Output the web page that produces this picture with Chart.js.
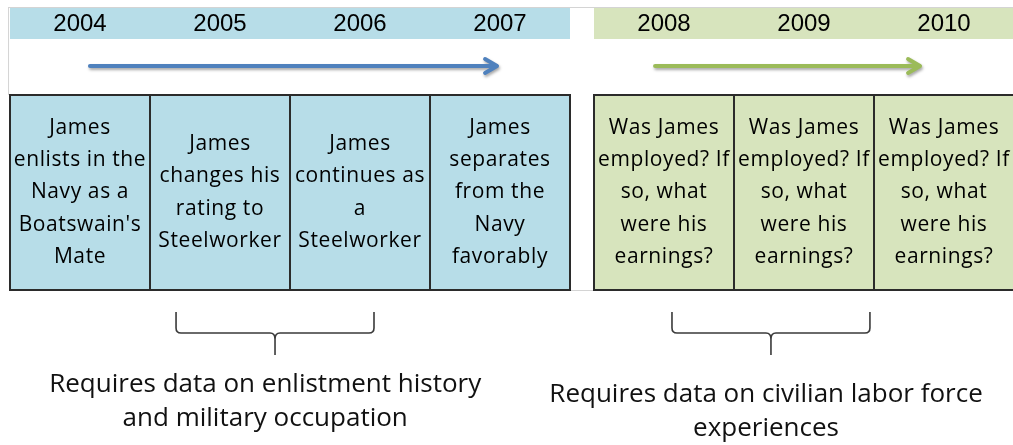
<!DOCTYPE html>
<html>
<head>
<meta charset="utf-8">
<script src="https://cdn.jsdelivr.net/npm/chart.js@4/dist/chart.umd.min.js"></script>
<style>
  html, body { margin: 0; padding: 0; background: #fff; }
  #wrap { width: 1013px; height: 445px; }
</style>
</head>
<body>
<div id="wrap"><canvas id="timeline" width="1013" height="445"></canvas></div>
<script>
// データ
const years = ['2004', '2005', '2006', '2007', '2008', '2009', '2010'];
const yearGroup = [0, 0, 0, 0, 1, 1, 1]; // 0 = 軍歴, 1 = 民間
const eventLines = [
    ['James', 'enlists in the', 'Navy as a', "Boatswain's", 'Mate'],
    ['James', 'changes his', 'rating to', 'Steelworker'],
    ['James', 'continues as', 'a', 'Steelworker'],
    ['James', 'separates', 'from the', 'Navy', 'favorably'],
    ['Was James', 'employed? If', 'so, what', 'were his', 'earnings?'],
    ['Was James', 'employed? If', 'so, what', 'were his', 'earnings?'],
    ['Was James', 'employed? If', 'so, what', 'were his', 'earnings?']
];
const groupNotes = [
    ['Requires data on enlistment history', 'and military occupation'],
    ['Requires data on civilian labor force', 'experiences']
];

// スタイル・レイアウト
const fills = ['#b7dde8', '#d7e4bd'];
const arrowColors = ['#4f81bd', '#9bbb59'];
const GAP = 24 / 140;               // グループ間の隙間（列単位）
const groupStart = [0, 4 + GAP];
const groupEnd = [4, 7 + GAP];
const arrowSpan = [[0.571, 3.479], [0.436, 2.329]];   // グループ先頭からの位置
const braceSpan = [[1.186, 2.6], [0.557, 1.971]];
const noteShift = [-0.07, -0.035];
const noteTop = [385, 395];

function slot(i) { return i + (yearGroup[i] ? GAP : 0); }

const layoutPlugin = {
    id: 'layoutPlugin',
    afterDatasetsDraw(chart) {
        const ctx = chart.ctx;
        const x = chart.scales.x, y = chart.scales.y;
        const px = v => x.getPixelForValue(v);
        const py = v => y.getPixelForValue(v);
        ctx.save();

        // 枠線（薄いグレー）
        ctx.strokeStyle = '#d4d4d4';
        ctx.lineWidth = 1;
        ctx.beginPath();
        ctx.moveTo(px(-0.014), py(7.5)); ctx.lineTo(px(7.2), py(7.5));
        ctx.moveTo(px(-0.014) + 0.5, py(7.5)); ctx.lineTo(px(-0.014) + 0.5, py(95));
        ctx.moveTo(px(4), py(290.5)); ctx.lineTo(px(4 + GAP), py(290.5));
        ctx.stroke();

        // ヘッダー帯
        [0, 1].forEach(g => {
            ctx.fillStyle = fills[g];
            ctx.fillRect(px(groupStart[g]), py(8), px(groupEnd[g]) - px(groupStart[g]), py(39) - py(8));
        });

        // 年ラベル
        ctx.fillStyle = '#000';
        ctx.font = '24px "Liberation Sans", Arial, sans-serif';
        ctx.textAlign = 'center';
        ctx.textBaseline = 'middle';
        years.forEach((yr, i) => {
            ctx.fillText(yr, px(slot(i) + 0.5), py(24));
        });

        // 矢印
        [0, 1].forEach(g => {
            const x0 = px(groupStart[g] + arrowSpan[g][0]);
            const x1 = px(groupStart[g] + arrowSpan[g][1]);
            const yy = py(66);
            ctx.save();
            ctx.shadowColor = 'rgba(0,0,0,0.35)';
            ctx.shadowBlur = 3;
            ctx.shadowOffsetX = 1;
            ctx.shadowOffsetY = 2;
            ctx.strokeStyle = arrowColors[g];
            ctx.lineWidth = 4;
            ctx.lineCap = 'round';
            ctx.lineJoin = 'round';
            ctx.beginPath();
            ctx.moveTo(x0, yy); ctx.lineTo(x1 - 1, yy);
            ctx.moveTo(x1 - 12, yy - 7); ctx.lineTo(x1, yy); ctx.lineTo(x1 - 12, yy + 7);
            ctx.stroke();
            ctx.restore();
        });

        // イベントの箱
        ctx.font = '21px "Open Sans", sans-serif';
        ctx.letterSpacing = '0.6px';
        const lineH = 32.3;
        eventLines.forEach((lines, i) => {
            const g = yearGroup[i];
            const l = px(slot(i)), r = px(slot(i) + 1);
            const t = py(95), b = py(290);
            ctx.fillStyle = fills[g];
            ctx.fillRect(l, t, r - l, b - t);
            ctx.strokeStyle = '#2b2b2b';
            ctx.lineWidth = 2;
            ctx.strokeRect(l, t, r - l, b - t);
            ctx.fillStyle = '#000';
            const mid = (t + b) / 2;
            const first = mid - (lines.length - 1) * lineH / 2;
            lines.forEach((s, k) => ctx.fillText(s, (l + r) / 2, first + k * lineH));
        });
        ctx.letterSpacing = '0px';

        // 波括弧と説明文
        [0, 1].forEach(g => {
            const a = px(groupStart[g] + braceSpan[g][0]);
            const c = px(groupStart[g] + braceSpan[g][1]);
            const m = (a + c) / 2;
            const top = py(312), hy = py(333), tip = py(355);
            ctx.strokeStyle = '#3a3a3a';
            ctx.lineWidth = 1.6;
            ctx.beginPath();
            ctx.moveTo(a, top);
            ctx.lineTo(a, hy - 5);
            ctx.quadraticCurveTo(a, hy, a + 5, hy);
            ctx.lineTo(m - 5, hy);
            ctx.quadraticCurveTo(m, hy, m, hy + 6);
            ctx.lineTo(m, tip);
            ctx.moveTo(m, hy + 6);
            ctx.quadraticCurveTo(m, hy, m + 5, hy);
            ctx.lineTo(c - 5, hy);
            ctx.quadraticCurveTo(c, hy, c, hy - 5);
            ctx.lineTo(c, top);
            ctx.stroke();

            ctx.fillStyle = '#111';
            ctx.font = '26px "Open Sans", sans-serif';
            const cx = px(groupStart[g] + (braceSpan[g][0] + braceSpan[g][1]) / 2 + noteShift[g]);
            groupNotes[g].forEach((s, k) => ctx.fillText(s, cx, py(noteTop[g] + k * 34)));
        });

        ctx.restore();
    }
};

new Chart(document.getElementById('timeline'), {
    type: 'scatter',
    data: {
        datasets: [{
            label: 'years',
            data: years.map((yr, i) => ({ x: slot(i) + 0.5, y: 24 })),
            pointRadius: 0
        }]
    },
    options: {
        responsive: false,
        devicePixelRatio: 1,
        animation: false,
        layout: { padding: 0 },
        plugins: { legend: { display: false }, tooltip: { enabled: false } },
        scales: {
            x: { type: 'linear', display: false, min: -10 / 140, max: 1003 / 140 },
            y: { type: 'linear', display: false, reverse: true, min: 0, max: 445 }
        }
    },
    plugins: [layoutPlugin]
});
</script>
</body>
</html>
